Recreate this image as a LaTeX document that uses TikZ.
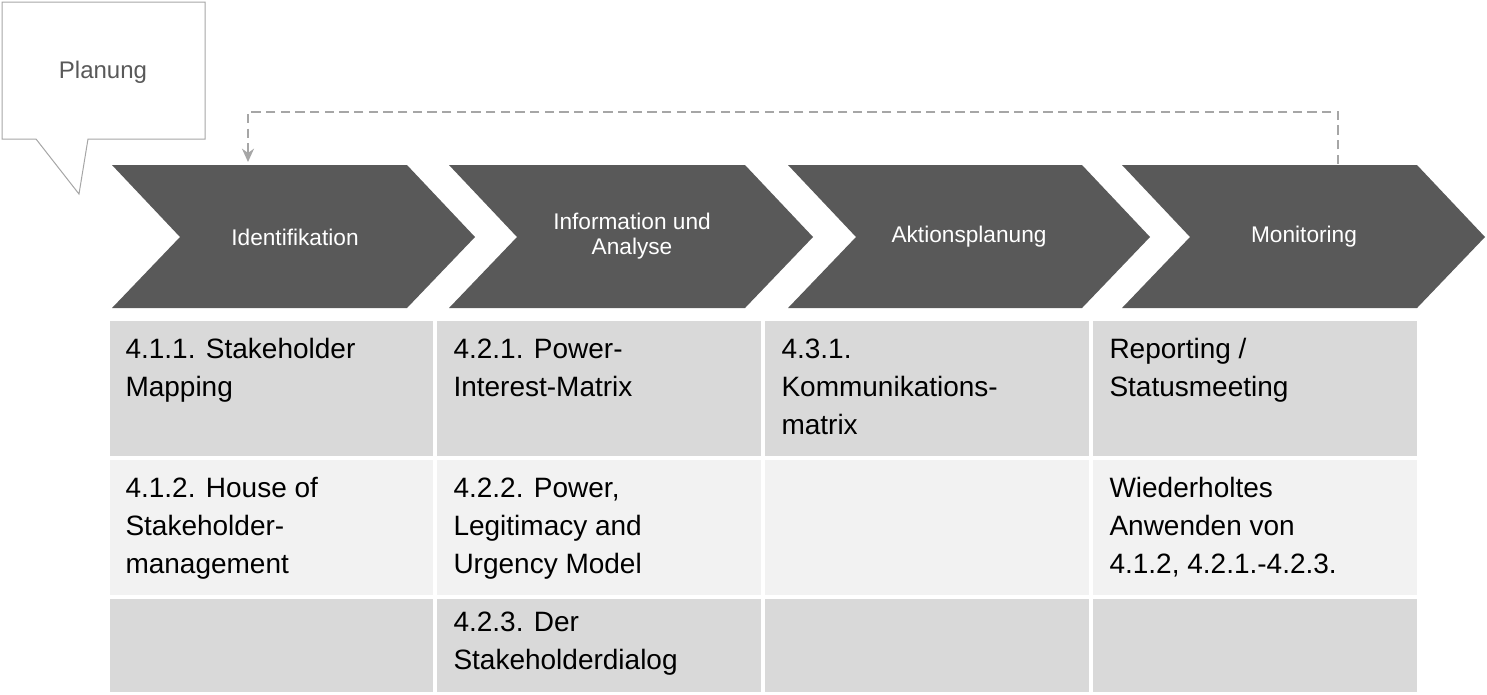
\documentclass[tikz,border=0pt]{standalone}
\usepackage{fontspec}
\setmainfont{Liberation Sans}
\usetikzlibrary{arrows.meta}
\definecolor{chev}{RGB}{89,89,89}
\definecolor{celldark}{RGB}{217,217,217}
\definecolor{celllight}{RGB}{242,242,242}
\definecolor{dashgray}{RGB}{166,166,166}
\tikzset{every picture/.style={line width=0.75pt},
  chevtext/.style={text=white,font=\fontsize{17}{19}\selectfont,align=center,inner sep=0.75pt},
  celltext/.style={anchor=north west,align=left,font=\fontsize{21}{28.5}\selectfont,inner sep=0.75pt}}
\begin{document}
\begin{tikzpicture}[x=0.75pt,y=0.75pt,yscale=-1,xscale=1]
\useasboundingbox (0,0) rectangle (1487,694);

%Callout
\draw [color={rgb, 255:red, 166; green, 166; blue, 166}, fill=white] (2,2) -- (205,2) -- (205,139) -- (88,139) -- (79,194) -- (36,139) -- (2,139) -- cycle ;
\node [text=chev,font=\fontsize{18}{20}\selectfont,inner sep=0.75pt] (planung) at (103,72) {Planung};

%Chevrons
\fill [chev] (112,165) -- (407,165) -- (475,237) -- (407,308) -- (112,308) -- (180,237) -- cycle ;
\fill [chev] (449,165) -- (745,165) -- (813,237) -- (745,308) -- (449,308) -- (517,237) -- cycle ;
\fill [chev] (788,165) -- (1082,165) -- (1150,237) -- (1082,308) -- (788,308) -- (856,237) -- cycle ;
\fill [chev] (1122,165) -- (1417,165) -- (1485,237) -- (1417,308) -- (1122,308) -- (1190,237) -- cycle ;
\node [chevtext] (ident) at (295,237) {Identifikation};
\node [chevtext] (info) at (632,236) {Information und\\Analyse};
\node [chevtext] (aktion) at (969,237) {Aktionsplanung};
\node [chevtext] (monit) at (1304,237) {Monitoring};

%Feedback loop
\coordinate (loopstart) at (1338,164);
\coordinate (loopend) at (248,162);
\draw [dashgray, line width=1.5pt, dash pattern=on 7pt off 4pt, -{Stealth[length=10pt,width=9pt]}] (loopstart) -- (1338,112) -- (248,112) -- (loopend) ;

%Table
\fill [celldark] (110,321) rectangle (433,456);
\fill [celldark] (437,321) rectangle (761,456);
\fill [celldark] (765,321) rectangle (1089,456);
\fill [celldark] (1093,321) rectangle (1417,456);
\fill [celllight] (110,460) rectangle (433,595);
\fill [celllight] (437,460) rectangle (761,595);
\fill [celllight] (765,460) rectangle (1089,595);
\fill [celllight] (1093,460) rectangle (1417,595);
\fill [celldark] (110,599) rectangle (433,692);
\fill [celldark] (437,599) rectangle (761,692);
\fill [celldark] (765,599) rectangle (1089,692);
\fill [celldark] (1093,599) rectangle (1417,692);

\node [celltext] (c11) at (124,337) {4.1.1. Stakeholder\\Mapping};
\node [celltext] (c12) at (452,337) {4.2.1. Power-\\Interest-Matrix};
\node [celltext] (c13) at (780,337) {4.3.1.\\Kommunikations-\\matrix};
\node [celltext] (c14) at (1108,337) {Reporting /\\Statusmeeting};
\node [celltext] (c21) at (124,476) {4.1.2. House of\\Stakeholder-\\management};
\node [celltext] (c22) at (452,476) {4.2.2. Power,\\Legitimacy and\\Urgency Model};
\node [celltext] (c24) at (1108,476) {Wiederholtes\\Anwenden von\\4.1.2, 4.2.1.-4.2.3.};
\node [celltext] (c32) at (452,610) {4.2.3. Der\\Stakeholderdialog};

\end{tikzpicture}
\end{document}
